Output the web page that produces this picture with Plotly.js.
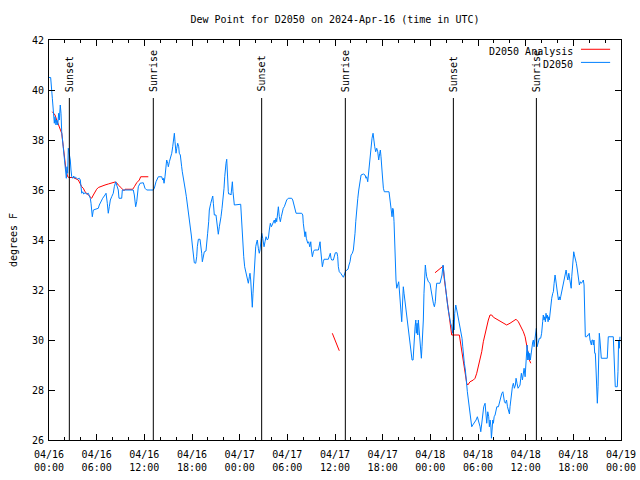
<!DOCTYPE html>
<html>
<head>
<meta charset="utf-8">
<script src="https://cdn.plot.ly/plotly-3.0.1.min.js"></script>
<style>html,body{margin:0;padding:0;background:#fff;}#chart{width:640px;height:480px;}</style>
</head>
<body>
<div id="chart"></div>
<script>
// Hours since 2024-04-16 00:00 UTC
var obsHours = [0.00,0.21,0.42,0.54,0.67,0.76,0.88,0.97,1.10,1.22,1.30,1.42,1.51,1.60,1.72,1.80,1.93,2.01,2.10,2.18,2.27,2.35,2.43,2.56,2.68,2.77,2.86,2.98,3.11,3.24,3.36,3.49,3.61,3.81,3.94,4.03,4.12,4.24,4.37,4.53,4.75,4.95,5.07,5.20,5.29,5.45,5.58,5.79,6.00,6.21,6.33,6.63,6.76,7.05,7.18,7.34,7.46,7.59,7.72,7.89,8.09,8.22,8.40,8.52,8.72,8.81,9.15,9.23,10.61,10.74,10.91,11.04,11.17,11.24,11.46,11.67,11.87,12.08,12.30,13.13,
13.26,13.47,13.63,13.76,14.19,14.31,14.39,14.48,14.60,14.69,14.81,14.94,15.02,15.15,15.32,15.45,15.57,15.65,15.78,15.86,15.99,16.08,16.20,16.33,16.40,16.53,16.58,16.70,16.78,16.91,17.03,17.16,17.29,17.41,17.54,17.66,17.79,17.91,18.04,18.17,18.29,18.47,18.59,18.67,18.80,19.01,19.13,19.22,19.30,19.42,19.55,19.76,19.85,19.97,20.10,20.18,20.36,20.48,20.61,20.69,20.81,21.02,21.11,21.24,21.31,21.44,21.53,21.65,21.78,21.94,22.03,22.12,22.20,22.28,22.37,22.41,22.50,22.57,22.62,22.82,22.91,23.00,23.08,23.16,23.25,23.33,24.13,24.21,24.30,24.38,24.51,24.63,24.76,24.89,25.01,25.09,25.22,25.30,25.39,25.51,25.59,25.68,25.77,25.84,25.93,26.02,26.15,26.22,26.35,26.47,
26.56,26.78,26.90,27.07,27.19,27.32,27.48,27.61,27.73,27.86,27.99,28.11,28.24,28.36,28.45,28.57,28.66,28.79,28.87,28.99,29.12,29.24,29.37,29.49,29.62,29.75,29.92,30.12,30.55,30.68,30.84,31.01,31.10,31.81,31.94,32.01,32.10,32.22,32.31,32.39,32.57,32.69,32.82,32.95,33.03,33.15,33.28,33.41,33.91,34.03,34.12,34.20,34.33,34.41,34.53,34.62,35.16,35.28,35.41,35.50,35.59,35.79,35.91,36.04,36.25,36.34,36.42,36.54,36.72,36.88,37.05,37.17,37.30,37.47,37.64,37.76,37.89,38.02,38.18,38.31,38.44,38.52,38.61,38.74,38.87,38.99,39.12,
39.28,39.57,39.78,39.91,39.99,40.12,40.20,40.32,40.45,40.57,40.66,40.79,40.87,41.00,41.12,41.25,41.38,41.50,41.63,41.71,41.79,41.88,41.96,42.09,42.21,42.80,42.89,43.01,43.09,43.18,43.27,43.35,43.43,43.52,43.59,43.68,43.77,43.89,44.02,44.10,44.19,44.31,44.40,44.52,44.60,44.69,44.82,44.94,45.07,45.19,45.32,45.45,45.57,45.70,45.83,45.92,45.99,46.08,46.17,46.24,46.33,46.42,46.49,46.58,46.66,46.74,46.87,46.95,47.04,47.12,47.20,47.29,47.37,47.46,47.54,47.75,47.96,48.09,48.21,48.38,48.51,48.63,48.72,48.80,49.22,49.35,49.47,49.60,
49.76,49.89,50.01,50.14,50.26,50.39,50.56,50.69,50.82,50.90,50.99,51.07,51.20,51.33,51.45,51.53,51.66,51.74,51.87,51.99,52.08,52.16,52.28,52.41,52.50,52.58,52.66,52.79,52.91,53.09,53.21,53.34,53.50,53.63,53.76,53.92,54.05,54.18,54.26,54.35,54.43,54.51,54.60,54.72,54.89,55.01,55.10,55.23,55.35,55.43,55.52,55.61,55.69,55.77,55.86,55.94,56.03,56.15,56.28,56.37,56.57,56.70,56.87,57.00,57.13,57.21,57.33,57.46,57.59,57.71,57.84,57.96,58.03,58.12,58.20,58.33,58.45,58.58,58.71,58.79,58.91,59.04,59.17,59.29,59.38,59.46,59.59,59.71,59.80,59.93,60.01,60.09,60.18,60.26,60.34,60.43,60.51,60.59,60.68,60.76,60.89,60.97,61.06,61.18,61.27,61.35,61.44,
61.59,61.72,61.89,62.01,62.14,62.22,62.31,62.40,62.48,62.56,62.65,62.73,62.82,62.90,62.98,63.07,63.16,63.28,63.41,63.49,63.58,63.70,63.79,63.87,63.95,64.04,64.12,64.24,64.33,64.41,64.50,64.62,64.75,64.88,65.00,65.09,65.22,65.31,65.43,65.56,65.64,65.73,65.80,65.88,65.97,66.05,66.13,66.26,66.38,66.51,66.60,66.68,66.76,66.89,67.01,67.14,67.26,67.35,67.44,67.51,67.69,67.81,67.94,68.01,68.10,68.19,68.27,68.35,68.44,68.52,68.60,68.69,68.77,68.86,68.94,69.02,69.11,69.19,69.27,69.35,69.44,69.52,70.27,70.40,71.03,71.11,71.20,71.28,71.53,71.62,71.70,71.78,71.87];
var obsDew = [40.5,40.5,39.67,39.27,38.67,38.93,38.6,38.8,38.6,39.07,38.8,39.4,39.07,38.33,38.0,37.73,37.33,37.07,36.8,36.47,36.93,36.67,37.67,37.4,37.2,36.8,36.53,36.47,36.56,36.47,36.51,36.47,36.44,36.47,36.4,36.13,35.87,35.93,35.84,35.89,35.84,35.87,35.8,35.67,35.47,34.93,35.2,35.23,35.23,35.27,35.4,35.6,35.67,35.8,35.87,35.47,35.07,35.33,35.6,35.73,35.87,36.13,36.33,36.2,36.0,35.67,35.67,36.0,36.0,35.8,35.33,35.53,35.8,36.13,36.27,36.29,36.29,36.07,36.0,36.0,
36.07,36.33,36.47,36.53,36.53,36.4,36.47,36.27,36.53,37.0,37.2,37.07,36.93,37.13,37.31,37.47,37.73,38.07,38.27,37.93,37.47,37.67,37.87,37.73,37.47,37.4,37.13,36.93,36.73,36.53,36.27,36.0,35.73,35.47,35.13,34.87,34.53,34.2,33.8,33.33,33.09,33.07,33.33,33.73,34.03,34.03,33.8,33.47,33.13,33.27,33.53,33.56,33.8,34.27,34.73,35.2,35.47,35.67,35.76,35.47,35.0,35.0,34.8,34.47,34.23,34.53,34.67,34.93,35.27,35.73,36.07,36.53,36.93,37.07,37.23,36.8,36.4,35.93,35.84,35.84,35.8,36.13,36.33,35.93,35.67,35.4,35.43,34.93,34.4,33.87,33.33,32.93,32.73,32.53,32.4,32.27,32.53,32.67,32.4,31.67,31.31,31.87,32.53,32.93,33.33,33.73,33.93,34.0,33.67,33.47,
33.6,34.27,34.07,33.73,33.93,34.13,34.0,34.07,34.4,34.67,34.53,34.6,34.67,34.8,34.67,34.87,34.73,35.07,35.33,34.93,34.73,34.93,35.13,35.27,35.33,35.47,35.6,35.67,35.67,35.6,35.4,35.2,35.07,35.07,35.0,34.67,34.33,34.13,34.33,34.07,33.87,33.93,33.73,33.93,33.6,33.33,33.53,33.6,33.6,33.8,33.93,33.6,33.2,32.93,33.13,33.23,33.23,33.33,33.47,33.27,33.2,33.2,33.33,33.49,33.49,33.33,32.93,32.73,32.67,32.57,32.51,32.6,32.73,32.8,32.83,33.0,33.13,33.4,33.47,33.6,33.93,34.27,34.73,35.33,35.67,36.0,36.33,
36.6,36.64,36.6,36.47,36.53,36.33,36.6,37.0,37.47,37.73,38.07,38.27,37.93,37.73,37.53,37.67,37.53,37.2,37.47,37.6,37.33,37.07,36.6,36.07,35.93,35.93,35.67,35.53,35.2,34.93,35.27,35.2,34.73,33.73,32.93,32.4,32.07,32.27,32.33,32.0,31.6,31.13,30.73,31.6,32.13,31.87,31.53,31.07,30.73,30.4,30.07,29.73,29.4,29.2,29.2,29.8,29.87,30.53,30.8,30.27,30.67,30.2,30.8,30.4,30.13,29.8,29.27,29.73,30.13,30.8,31.87,32.67,33.0,32.73,32.53,32.33,32.27,32.0,31.73,31.47,31.33,31.53,32.0,32.27,32.27,32.4,32.6,33.0,
32.53,32.0,31.73,31.47,31.2,30.93,30.67,30.53,30.27,30.8,30.4,31.07,31.4,31.2,31.0,30.93,30.73,30.6,30.33,30.07,29.73,29.4,29.07,28.8,28.4,28.27,27.93,27.6,27.27,26.93,26.53,26.6,26.67,26.73,26.8,26.93,26.8,26.6,26.53,26.33,26.6,26.73,27.07,27.33,27.47,27.07,26.67,27.13,26.93,26.53,26.8,26.6,26.07,26.4,26.8,26.67,26.93,27.0,27.2,27.33,27.33,27.53,27.73,27.87,27.93,27.67,27.53,27.47,27.6,27.33,27.2,27.04,27.33,27.6,27.8,28.13,28.27,28.07,28.2,28.47,28.27,28.07,28.13,28.2,28.47,28.67,28.4,28.6,28.87,28.53,28.93,29.33,29.8,29.2,29.53,29.2,29.47,29.2,29.47,29.67,29.93,30.0,29.73,30.07,30.33,30.47,29.73,
30.0,30.07,30.07,30.27,30.73,31.0,30.8,30.93,30.73,31.07,30.87,31.0,30.73,30.93,30.8,31.13,31.4,31.67,31.87,31.93,32.27,32.6,32.4,32.27,32.0,31.8,31.6,31.73,31.6,31.73,31.87,32.13,32.27,32.4,32.67,32.8,32.53,32.4,32.67,32.4,32.27,32.07,32.53,33.0,33.2,33.53,33.4,33.27,33.07,32.8,32.6,32.4,32.2,32.33,32.27,32.33,32.4,32.2,30.8,30.13,30.13,30.2,30.2,30.27,30.0,29.8,29.8,30.0,30.0,29.8,30.0,29.47,29.47,28.8,28.27,27.47,28.13,28.93,30.27,30.0,29.6,29.27,29.27,30.13,30.13,29.6,28.67,28.13,28.13,28.73,30.0,29.67,30.13];

var anaHours = [0.42,0.76,0.97,1.17,1.38,1.60,1.80,2.01,2.14,2.35,2.52,3.06,3.27,3.69,3.90,4.12,4.32,4.53,4.95,5.37,5.58,5.79,6.00,6.21,6.63,7.05,7.46,7.89,8.31,8.52,8.72,9.15,9.44,9.57,10.54,10.74,11.04,11.37,11.54,12.50,
null,35.66,36.54,null,
48.59,49.22,49.63,49.72,49.85,49.97,50.14,50.26,50.39,50.54,50.69,51.65,51.74,51.87,52.03,52.16,52.28,52.41,52.58,52.71,53.00,53.42,53.63,53.84,54.05,54.26,54.47,54.67,54.89,55.10,55.30,55.51,55.73,55.94,56.37,56.77,57.19,57.61,58.03,58.45,58.79,59.08,59.29,59.50,59.71,59.93,60.05,60.22,60.34,60.47,60.64];
var anaDew = [39.13,39.0,38.8,38.6,38.47,38.27,37.73,37.2,36.8,36.53,36.5,36.5,36.47,36.4,36.27,36.13,36.07,35.93,35.8,35.67,35.8,35.93,36.03,36.1,36.16,36.2,36.24,36.27,36.32,36.29,36.2,36.07,35.97,36.03,36.03,36.13,36.29,36.4,36.53,36.53,
null,30.27,29.57,null,
32.69,32.87,32.96,32.53,32.2,31.87,31.47,31.2,30.87,30.5,30.2,30.2,30.0,29.67,29.4,29.2,28.8,28.6,28.27,28.2,28.33,28.4,28.47,28.67,28.93,29.2,29.53,29.93,30.27,30.53,30.8,31.0,31.0,30.91,30.83,30.73,30.67,30.6,30.67,30.76,30.83,30.73,30.6,30.47,30.33,30.13,29.93,29.67,29.4,29.2,29.07];

var sunEventHours = [2.56, 13.13, 26.77, 37.30, 50.90, 61.35];
var sunEventLabels = ["Sunset","Sunrise","Sunset","Sunrise","Sunset","Sunrise"];

var tickHours = [0,6,12,18,24,30,36,42,48,54,60,66,72];
var tickLabels = ["04/16<br>00:00","04/16<br>06:00","04/16<br>12:00","04/16<br>18:00","04/17<br>00:00","04/17<br>06:00","04/17<br>12:00","04/17<br>18:00","04/18<br>00:00","04/18<br>06:00","04/18<br>12:00","04/18<br>18:00","04/19<br>00:00"];

var seriesNames = ["D2050 Analysis", "D2050"];
var seriesColors = ["#ff0000", "#0080ff"];

var FONT = "DejaVu Sans Mono, monospace";

var traces = [
  {x: anaHours, y: anaDew, type: "scatter", mode: "lines", name: seriesNames[0],
   line: {color: seriesColors[0], width: 1}, connectgaps: false, showlegend: false},
  {x: obsHours, y: obsDew, type: "scatter", mode: "lines", name: seriesNames[1],
   line: {color: seriesColors[1], width: 1}, showlegend: false}
];

var shapes = [];
var annotations = [];
sunEventHours.forEach(function(h, i) {
  shapes.push({type: "line", xref: "x", yref: "paper", x0: h, x1: h, y0: 0, y1: 0.855,
               line: {color: "#000", width: 1}});
  annotations.push({x: h, y: 0.868, xref: "x", yref: "paper", text: sunEventLabels[i],
                    showarrow: false, textangle: -90, xanchor: "center", yanchor: "bottom",
                    font: {family: FONT, size: 10, color: "#000"}, borderpad: 0});
});
// custom legend (text left of sample line, gnuplot style)
var legTextY = [0.972, 0.939];
var legLineY = [0.9768, 0.944];
seriesNames.forEach(function(n, i) {
  annotations.push({x: 0.9178, y: legTextY[i], xref: "paper", yref: "paper", text: n,
                    showarrow: false, xanchor: "right", yanchor: "middle",
                    font: {family: FONT, size: 10, color: "#000"}, borderpad: 0});
  shapes.push({type: "line", xref: "paper", yref: "paper", x0: 0.930, x1: 0.981,
               y0: legLineY[i], y1: legLineY[i], line: {color: seriesColors[i], width: 1}});
});

var layout = {
  width: 640, height: 480,
  margin: {l: 49, r: 19, t: 40, b: 40, pad: 0},
  paper_bgcolor: "#fff", plot_bgcolor: "#fff",
  showlegend: false,
  font: {family: FONT, size: 10, color: "#000"},
  title: {text: "Dew Point for D2050 on 2024-Apr-16 (time in UTC)", x: 0.5, xref: "paper",
          y: 0.96, yref: "container", yanchor: "middle", font: {family: FONT, size: 10, color: "#000"}},
  xaxis: {range: [0, 72], tickmode: "array", tickvals: tickHours, ticktext: tickLabels,
          ticks: "inside", ticklen: 6, tickcolor: "#000", tickwidth: 1, ticklabelstandoff: 5,
          minor: {tickmode: "linear", tick0: 0, dtick: 2, ticks: "inside", ticklen: 3, tickcolor: "#000", tickwidth: 1},
          showline: true, linecolor: "#000", linewidth: 1, mirror: "ticks",
          showgrid: false, zeroline: false, fixedrange: true,
          tickfont: {family: FONT, size: 10, color: "#000"}},
  yaxis: {range: [26, 42], tickmode: "linear", tick0: 26, dtick: 2,
          ticks: "inside", ticklen: 6, tickcolor: "#000", tickwidth: 1, ticklabelstandoff: 2,
          showline: true, linecolor: "#000", linewidth: 1, mirror: "ticks",
          showgrid: false, zeroline: false, fixedrange: true,
          title: {text: "degrees F", standoff: 12, font: {family: FONT, size: 10, color: "#000"}},
          tickfont: {family: FONT, size: 10, color: "#000"}},
  shapes: shapes,
  annotations: annotations
};

Plotly.newPlot("chart", traces, layout, {staticPlot: true, displayModeBar: false});
</script>
</body>
</html>
